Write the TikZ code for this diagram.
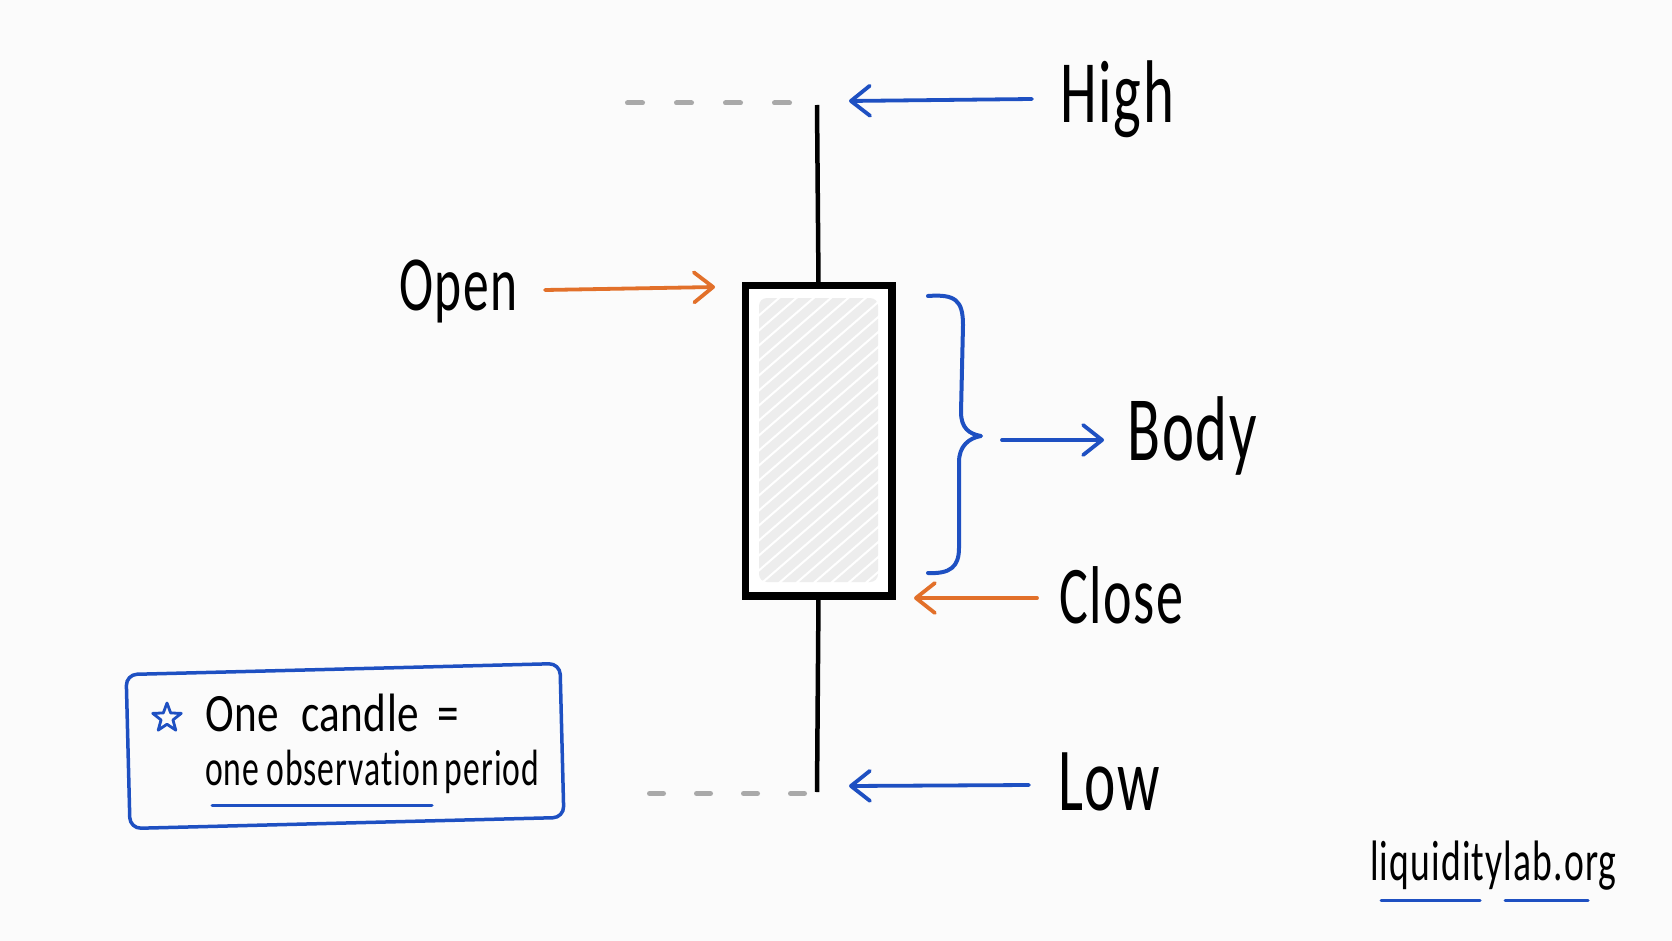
\documentclass[tikz,border=0pt]{standalone}
\usepackage{fontspec}
\usetikzlibrary{arrows.meta,shapes.geometric}
\newfontfamily\hand[FakeStretch=0.66,LetterSpace=2,Ligatures=NoCommon]{Carlito}
\newfontfamily\handwide[FakeStretch=0.8,LetterSpace=1,Ligatures=NoCommon]{Carlito}
\definecolor{inkblue}{HTML}{1E50C2}
\definecolor{inkorange}{HTML}{E2702A}
\definecolor{dashgray}{HTML}{A9A9A9}
\definecolor{bgcol}{HTML}{FBFBFB}
\definecolor{scrib}{HTML}{EDEDED}
\begin{document}
\begin{tikzpicture}[x=1pt,y=-1pt,
  lbl/.style={inner sep=0pt, anchor=base west, text=black, font=\hand},
  arr/.style={line width=3.8pt, line cap=round,
    -{Straight Barb[length=19pt,width=30pt,round]}},
  bluearr/.style={arr, draw=inkblue},
  orangearr/.style={arr, draw=inkorange},
  wick/.style={line width=4.5pt, draw=black},
  guide/.style={line width=5pt, draw=dashgray, line cap=round},
  uline/.style={line width=3pt, draw=inkblue, line cap=round},
]
\fill[bgcol] (0,0) rectangle (1672,941);
\useasboundingbox (0,0) rectangle (1672,941);

% candle body
\node[draw=black, line width=5pt, fill=white, inner sep=0pt,
      minimum width=144pt, minimum height=308pt] (candle) at (818.5,440.5) {};
\begin{scope}
  \clip[rounded corners=8pt] (759,298) rectangle (878,582);
  \foreach \k in {0,...,28}
    \draw[scrib, line width=9pt, line cap=round]
      (745,305+\k*15) -- ++(150,-130);
\end{scope}
\draw[black, line width=5pt] (candle.north west) rectangle (candle.south east);

% wicks
\coordinate (wtop) at (817,105);
\coordinate (wbot) at (817,792);
\draw[wick] (wtop) -- (candle.north);
\draw[wick] (candle.south) -- (wbot);

% guide dashes
\coordinate (hd1) at (627.5,103);
\coordinate (hd2) at (792,103);
\coordinate (ld1) at (649.5,793.5);
\coordinate (ld2) at (806,793.5);
\draw[guide, dash pattern=on 15pt off 34pt] (hd1) -- (hd2);
\draw[guide, dash pattern=on 14pt off 33pt] (ld1) -- (ld2);

% labels
\node[lbl] (high) at (1060,123) {\fontsize{89}{100}\selectfont High};
\node[lbl] (open) at (399,310) {\fontsize{78}{90}\selectfont Open};
\node[lbl] (body) at (1127,460) {\fontsize{92}{100}\selectfont Body};
\node[lbl] (close) at (1059,623) {\fontsize{82}{95}\selectfont Close};
\node[lbl] (low) at (1058,810) {\fontsize{90}{100}\selectfont Low};

% arrows
\coordinate (hA) at (1032,99);  \coordinate (hB) at (849,101);
\coordinate (oA) at (545,290);  \coordinate (oB) at (715,287);
\coordinate (bA) at (1002,440); \coordinate (bB) at (1104,440);
\coordinate (cA) at (1037,598); \coordinate (cB) at (914,598);
\coordinate (lA) at (1029,785); \coordinate (lB) at (849,786);
\draw[bluearr] (hA) -- (hB);
\draw[orangearr] (oA) -- (oB);
\draw[bluearr] (bA) -- (bB);
\draw[orangearr] (cA) -- (cB);
\draw[bluearr] (lA) -- (lB);

% brace
\coordinate (brtop) at (928,296);
\coordinate (brtip) at (981,436);
\coordinate (brbot) at (928,573);
\draw[inkblue, line width=4pt, line cap=round, line join=round]
  (brtop) .. controls (955,294) and (963,300) .. (963,325)
  -- (961,412) .. controls (961,428) and (969,434) .. (brtip)
  .. controls (969,438) and (959,446) .. (959,462)
  -- (959,548) .. controls (959,567) and (950,574) .. (brbot);

% note box
\node[draw=inkblue, line width=3.5pt, rounded corners=11pt, inner sep=0pt,
      minimum width=434pt, minimum height=154pt, rotate=1.45] (note) at (345,746) {};
\node[star, star points=5, star point ratio=2.4, draw=inkblue, line width=2.8pt,
      inner sep=0pt, minimum size=30pt, line join=round] (star) at (167,718) {};
\node[lbl, font=\handwide] (line1) at (205,731) {\fontsize{54}{60}\selectfont One\hspace{22pt}candle\hspace{18pt}=};
\node[lbl] (line2) at (205,785) {\fontsize{51}{60}\selectfont one\hspace{7pt}observation\hspace{6pt}period};
\coordinate (u1) at (212,805);
\coordinate (u2) at (432,805);
\draw[uline] (u1) -- (u2);

% logo
\node[lbl] (logo) at (1370,880) {\fontsize{57}{60}\selectfont liquiditylab.org};
\coordinate (g1) at (1381,900); \coordinate (g2) at (1480,900);
\coordinate (g3) at (1505,900); \coordinate (g4) at (1588,900);
\draw[uline] (g1) -- (g2);
\draw[uline] (g3) -- (g4);
\end{tikzpicture}
\end{document}
